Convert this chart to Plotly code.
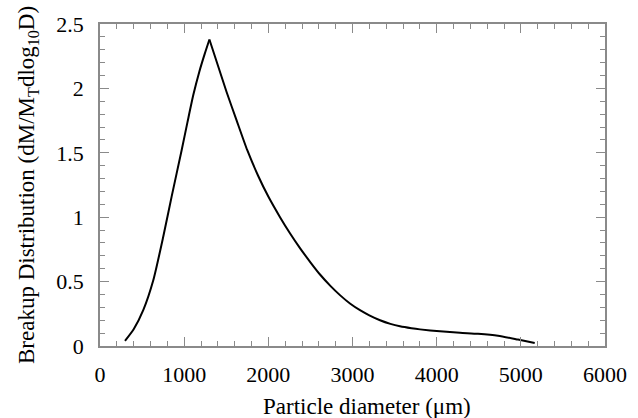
import plotly.graph_objects as go

diameter_um = [297, 400, 515, 633, 752, 851, 970, 1040, 1109, 1180, 1245, 1300, 1400, 1505, 1624, 1750,
               1880, 2000, 2139, 2257, 2376, 2500, 2614, 2740, 2851, 2970, 3089, 3200, 3327,
               3450, 3564, 3700, 3802, 4039, 4277, 4491, 4729, 4966, 5165]
breakup_dist = [0.04, 0.13, 0.28, 0.51, 0.85, 1.16, 1.52, 1.74, 1.95, 2.13, 2.27, 2.38, 2.18, 1.97, 1.75, 1.52,
                1.32, 1.16, 1.00, 0.875, 0.76, 0.65, 0.555, 0.465, 0.395, 0.33, 0.278, 0.238, 0.20,
                0.172, 0.153, 0.138, 0.129, 0.114, 0.103, 0.095, 0.08, 0.05, 0.023]

x_ticks = [0, 1000, 2000, 3000, 4000, 5000, 6000]
y_ticks = [0, 0.5, 1, 1.5, 2, 2.5]
y_tick_labels = ["0", "0.5", "1", "1.5", "2", "2.5"]
x_title = "Particle diameter (μm)"
y_title = "Breakup Distribution (dM/M<sub>T</sub>dlog<sub>10</sub>D)"

font_family = "Liberation Serif"
axis_color = "#8a8a8a"

peak = breakup_dist.index(max(breakup_dist))

fig = go.Figure()
# rising and falling branches drawn as smooth curves meeting at the sharp peak
fig.add_trace(go.Scatter(x=diameter_um[:peak + 1], y=breakup_dist[:peak + 1], mode="lines",
                         line=dict(color="black", width=2, shape="spline", smoothing=0.6),
                         showlegend=False))
fig.add_trace(go.Scatter(x=diameter_um[peak:], y=breakup_dist[peak:], mode="lines",
                         line=dict(color="black", width=2, shape="spline", smoothing=0.6),
                         showlegend=False))

fig.update_xaxes(range=[0, 6000], tickvals=x_ticks, ticks="inside", ticklen=9, tickwidth=1,
                 tickcolor=axis_color, showline=True, linecolor=axis_color, linewidth=1.5,
                 mirror="ticks", showgrid=False, zeroline=False, ticklabelstandoff=8,
                 automargin=False,
                 minor=dict(ticks="inside", dtick=200, ticklen=5, tickcolor=axis_color, tickwidth=1),
                 tickfont=dict(family=font_family, size=22, color="black"))
fig.update_yaxes(range=[0, 2.5], tickvals=y_ticks, ticktext=y_tick_labels, ticks="inside", ticklen=9,
                 tickwidth=1, tickcolor=axis_color, showline=True, linecolor=axis_color, linewidth=1.5,
                 mirror="ticks", showgrid=False, zeroline=False, ticklabelstandoff=10,
                 automargin=False,
                 minor=dict(ticks="inside", dtick=0.1, ticklen=5, tickcolor=axis_color, tickwidth=1),
                 tickfont=dict(family=font_family, size=22, color="black"))

fig.add_annotation(text=x_title, xref="paper", yref="paper", x=0.529, y=0, yshift=-60,
                   xanchor="center", yanchor="middle", showarrow=False,
                   font=dict(family=font_family, size=23, color="black"))
fig.add_annotation(text=y_title, xref="paper", yref="paper", x=0, y=0.5, xshift=-72,
                   xanchor="center", yanchor="middle", textangle=-90, showarrow=False,
                   font=dict(family=font_family, size=23, color="black"))

fig.update_layout(width=638, height=418, margin=dict(l=100, r=33, t=24, b=72),
                  plot_bgcolor="white", paper_bgcolor="white")

fig.write_html("out.html")
